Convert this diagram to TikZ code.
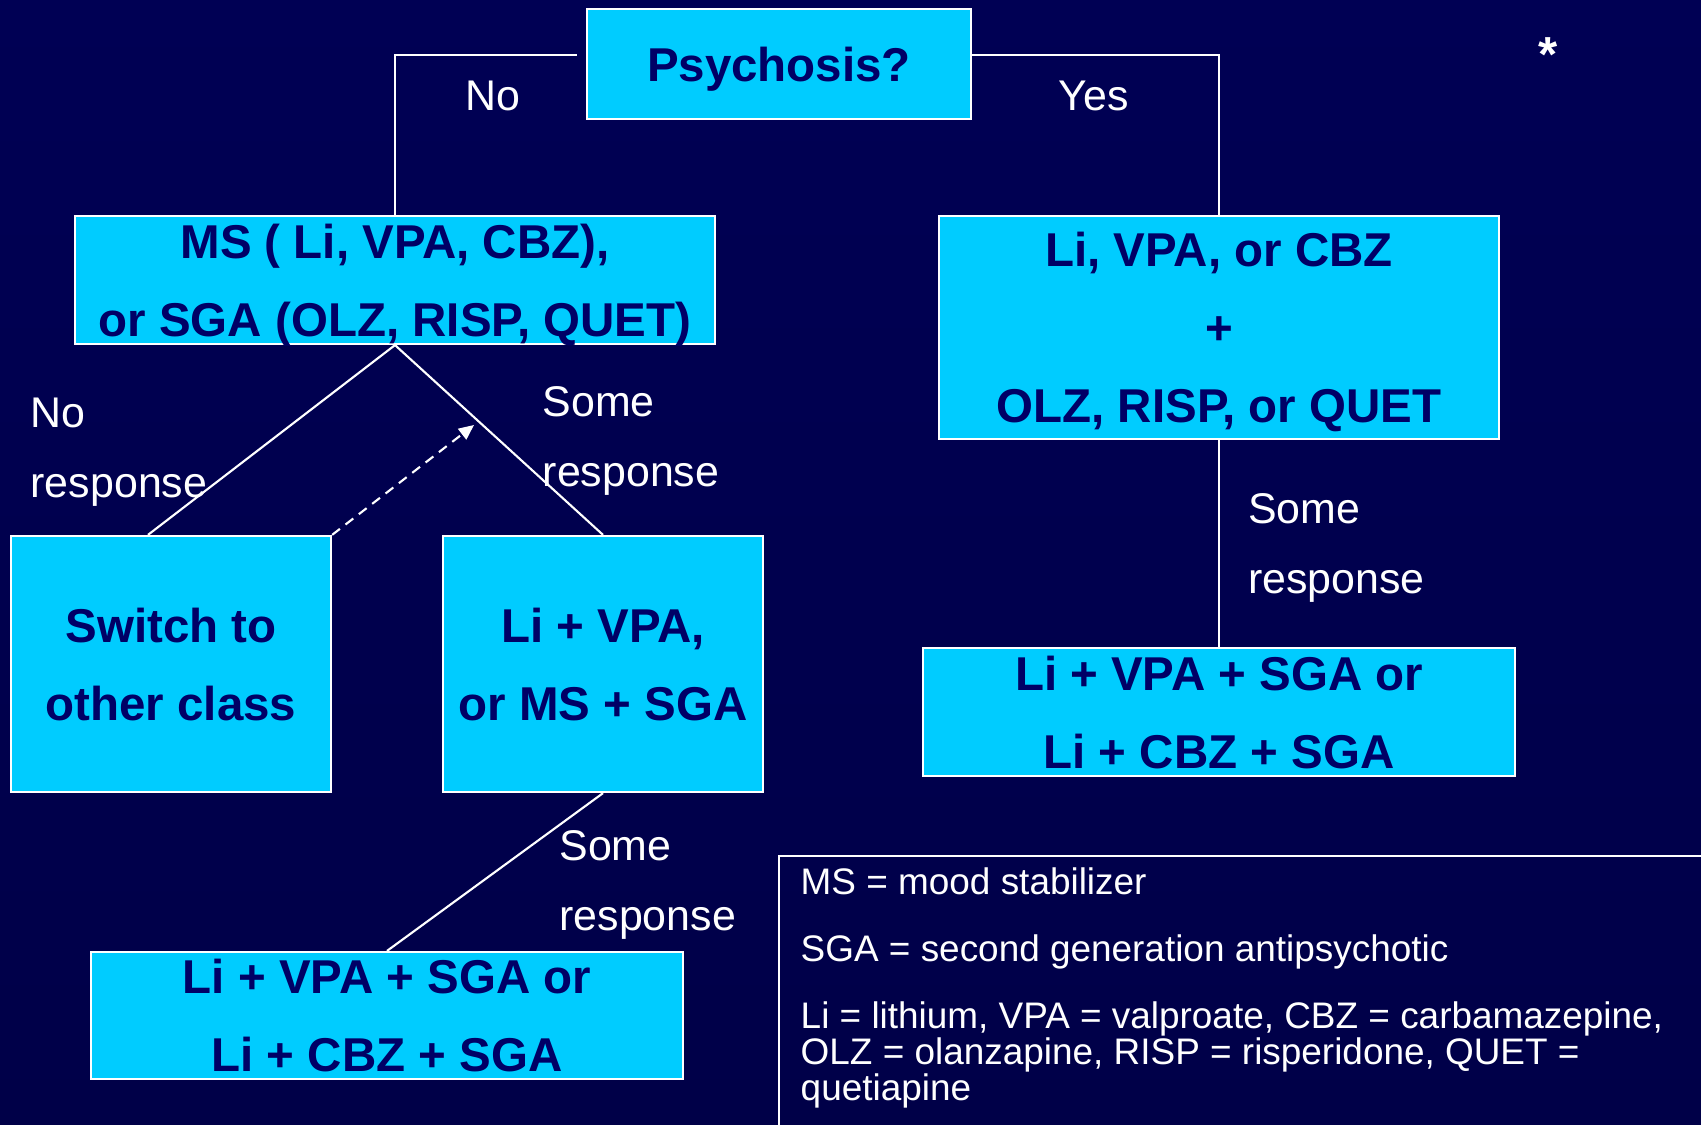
\documentclass[tikz,border=0pt]{standalone}
\usepackage{fontspec}
\setmainfont{Liberation Sans}
\usetikzlibrary{arrows.meta}
\definecolor{bgtop}{RGB}{0,0,84}
\definecolor{bgmid}{RGB}{0,0,148}
\definecolor{bgbot}{RGB}{0,0,72}
\definecolor{boxcyan}{RGB}{0,204,255}
\definecolor{boxnavy}{RGB}{0,0,102}

\begin{document}
\begin{tikzpicture}[x=0.01cm,y=-0.01cm,
	stepbox/.style={draw=white,line width=0.6pt,fill=boxcyan,text=boxnavy,align=center,text depth=0pt,
		font=\fontsize{13.5}{22.2}\selectfont\bfseries},
	lbl/.style={text=white,align=left,anchor=west,font=\fontsize{12.2}{19.9}\selectfont},
	legend/.style={text=white,anchor=west,align=left,font=\fontsize{10.5}{10.3}\selectfont},
	link/.style={white,line width=0.6pt}]
	\tikzstyle{every node}+=[inner sep=0pt]
	\shade[top color=bgtop,middle color=bgmid,bottom color=bgbot] (0,0) rectangle (1701,1125);
	\useasboundingbox (0,0) rectangle (1701,1125);
	\node [stepbox,minimum width=3.84cm,minimum height=1.10cm] (psy) at (779,64) {Psychosis?};
	\node [stepbox,minimum width=6.40cm,minimum height=1.28cm] (ms) at (395,280) {MS ( Li, VPA, CBZ),\\or SGA (OLZ, RISP, QUET)};
	\node [stepbox,minimum width=5.60cm,minimum height=2.23cm] (comb) at (1219,327.5) {Li, VPA, or CBZ\\+\\OLZ, RISP, or QUET};
	\node [stepbox,minimum width=3.20cm,minimum height=2.56cm] (switch) at (171,664) {Switch to\\other class};
	\node [stepbox,minimum width=3.20cm,minimum height=2.56cm] (livpa) at (603,664) {Li + VPA,\\or MS + SGA};
	\node [stepbox,minimum width=5.91cm,minimum height=1.28cm] (rtriple) at (1219,712) {Li + VPA + SGA or\\Li + CBZ + SGA};
	\node [stepbox,minimum width=5.92cm,minimum height=1.27cm] (ltriple) at (387,1015.5) {Li + VPA + SGA or\\Li + CBZ + SGA};
	\coordinate (back) at (474,425);
	\draw [link] ([shift={(-9,-9)}]psy.west) -| (ms.north);
	\draw [link] ([shift={(0,-9)}]psy.east) -| (comb.north);
	\draw [link] (ms.south) -- ([xshift=-0.23cm]switch.north);
	\draw [link] (ms.south) -- (livpa.north);
	\draw [link,dash pattern=on 2.8pt off 2pt,-{Triangle[length=4.3pt,width=3.8pt]}] (switch.north east) -- (back);
	\draw [link] (comb.south) -- (rtriple.north);
	\draw [link] (livpa.south) -- (ltriple.north);
	\node [lbl,anchor=center] (no) at (493,95.5) {No};
	\node [lbl,anchor=center] (yes) at (1093.5,95.5) {Yes};
	\node [lbl] (noresp) at (30,452) {No\\response};
	\node [lbl] (someresp) at (542,441) {Some\\response};
	\node [lbl] (rresp) at (1247.5,548) {Some\\response};
	\node [lbl] (lresp) at (558.7,884.6) {Some\\response};
	\node [text=white,font=\fontsize{14}{14}\selectfont\bfseries] (star) at (1548,55) {*};
	\draw [link] (1701,856) -| (779,1125);
	\node [legend] (msdef) at (800,881) {MS = mood stabilizer};
	\node [legend] (sgadef) at (800,952) {SGA = second generation antipsychotic};
	\node [legend] (drugdef) at (800,1055) {Li = lithium, VPA = valproate, CBZ = carbamazepine,\\OLZ = olanzapine, RISP = risperidone, QUET =\\quetiapine};
\end{tikzpicture}
\end{document}
